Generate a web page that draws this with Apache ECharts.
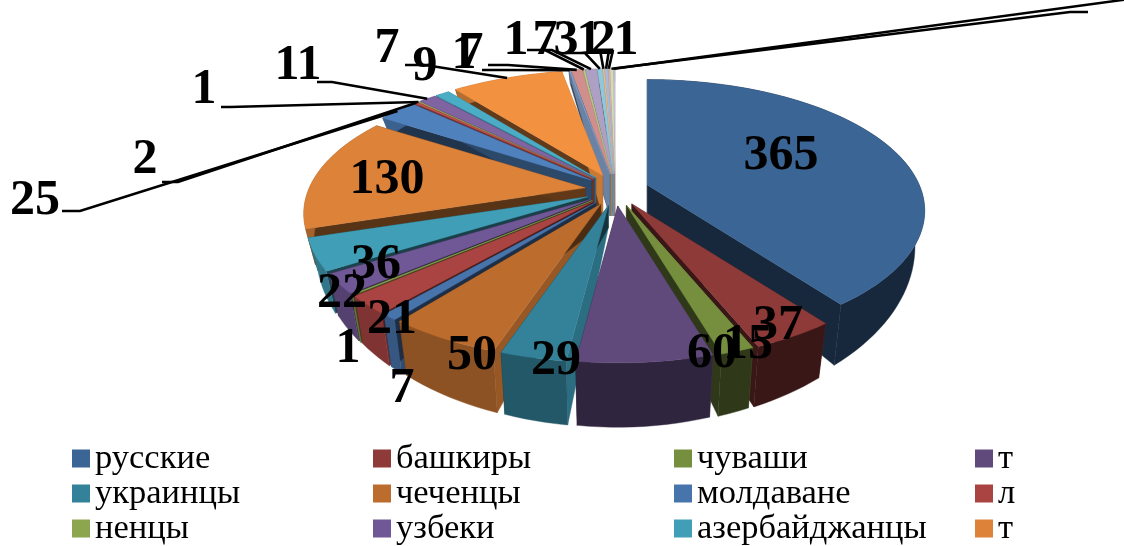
<!DOCTYPE html>
<html><head><meta charset="utf-8">
<style>html,body{margin:0;padding:0;background:#fff}#c{width:1124px;height:546px}</style>
<script src="https://cdn.jsdelivr.net/npm/echarts@6/dist/echarts.min.js"></script>
</head><body><div id="c"></div>
<script>
// ---- data ----
const categories = ['русские','башкиры','чуваши','т','украинцы','чеченцы','молдаване','л','ненцы','узбеки','азербайджанцы','т'];
const sliceValues = [365,37,15,60,29,50,7,21,1,22,36,130,25,2,1,11,9,71,1,7,1,7,3,1,2,1,2,1];
const sliceLabels = ['365','37','15','60','29','50','7','21','1','22','36','130','25','2','1','11','9','7','1','7','1','7','3','1','2','1','',''];
const sliceColors = ['#3A6595','#8E3A38','#758F3F','#5F4A7B','#338299','#BC6D2E','#4874AC','#A94442','#8BA64F','#705795','#419EB7','#DC8239',
  '#4F81BD','#C0504D','#9BBB59','#8064A2','#4BACC6','#F29140','#7F9BC4','#D08F8D','#B5C98A','#ADA0C4','#8FC8D8','#F5B585','#A5BBDA','#DDB0AE','#CFDDB0','#C5BCD8'];

// ---- layout, not data ----
const C = {cx:615, cy:190, exRight:34, exLeft:30, ey:16, rxRight:272, rxLeft:276, ry:126, k:0.197, fx:0.965, fy:1.27};
const FONT = 'bold 50px "Liberation Serif"';
// label centre + optional leader [startX,startY,kneeX,kneeY]
const labelLayout = [
 [781,156],[778,326],[748,345],[712,354],[556,361],[472,356],[402,389],[392,320],[348,349],[342,294],[376,265],[387,180],
 [35,201,[62,211,80,211]],[145,160,[162,182,178,182]],[204,90,[221,107,230,107]],[298,66,[317,82,332,82]],[425,67],[387,49,[405,65,425,65]],
 [464,55,[482,70,500,70]],[471,53,[488,65,508,65]],[516,41,[527,50,545,50]],[545,41,[545,50,552,50]],[566,41,[565,53,585,53]],
 [589,41,[600,50,600,50]],[603,41,[609,50,609,50]],[626,41,[613,50,613,50]],[0,0,[1088,12,1070,12]],[0,0,[1130,-1,1130,-1]]
];

const total = sliceValues.reduce((a,b)=>a+b,0);
const D2R = Math.PI/180;
const toAngle = v => v/total*360;
const starts = []; sliceValues.reduce((a,v,i)=>{starts[i]=a;return a+toAngle(v);},0);

function project(r,thetaDeg){
  const t=thetaDeg*D2R, u=r*Math.sin(t), v=-r*Math.cos(t), s=1/(1-C.k*v);
  return [(u<0?C.rxLeft:C.rxRight)*u*s, C.ry*v*s];
}
function geom(value,start){
  const end=start+toAngle(value), mid=(start+end)/2, sm=Math.sin(mid*D2R);
  const ax=C.cx+(sm<0?C.exLeft:C.exRight)*sm, ay=C.cy-C.ey*Math.cos(mid*D2R);
  const h0=22+20*Math.max(0,Math.cos(mid*D2R));
  const top=(th)=>{const p=project(1,th);return [ax+p[0],ay+p[1]];};
  const bottom=(pt)=>[ax+(pt[0]-ax)*C.fx, ay+h0+(pt[1]-ay)*C.fy];
  const arc=[];const n=Math.max(2,Math.ceil((end-start)/2));
  for(let i=0;i<=n;i++)arc.push(top(start+(end-start)*i/n));
  return {start,end,mid,apex:[ax,ay],arc,bottom,rimMid:top(mid)};
}
function shade(hex,b){
  const n=parseInt(hex.slice(1),16);
  const f=x=>Math.round(x*b);
  return 'rgb('+f(n>>16&255)+','+f(n>>8&255)+','+f(n&255)+')';
}
const clamp=x=>Math.max(0,Math.min(1,x));
const wallB=normalDeg=>0.4+0.45*clamp((Math.sin(normalDeg*D2R)-0.5)/0.5);

function sliceRender(i){
  return function(params,api){
    const g=geom(api.value(0),starts[i]), col=sliceColors[i];
    const a=g.arc, ba=g.apex, bb=g.bottom(ba);
    const poly=(pts,fill)=>({type:'polygon',shape:{points:pts},style:{fill:fill,stroke:fill,lineWidth:0.4}});
    const first=a[0], last=a[a.length-1];
    const rimB=0.4+0.35*clamp((g.mid-165)/35);
    const rim=a.concat(a.map(g.bottom).reverse());
    return {type:'group',children:[
      poly([ba,first,g.bottom(first),bb],shade(col,wallB(g.start-90))),
      poly([ba,last,g.bottom(last),bb],shade(col,wallB(g.end+90))),
      poly(rim,shade(col,rimB)),
      poly([ba].concat(a),col)
    ]};
  };
}

const sliceSeries = sliceValues.map((v,i)=>{
  const mid=starts[i]+toAngle(v)/2;
  return {type:'custom',name:i<categories.length?i+': '+categories[i]:'сегмент '+(i+1),coordinateSystem:'none',
    z:2,silent:true,animation:false,
    itemStyle:{color:sliceColors[i]},
    data:[[v]],renderItem:sliceRender(i),_depth:-Math.cos(mid*D2R)};
}).sort((a,b)=>a._depth-b._depth);
sliceSeries.forEach(s=>{delete s._depth;});

const labelSeries = {type:'custom',name:'labels',coordinateSystem:'none',z:50,silent:true,animation:false,
  data:sliceValues.map((v,i)=>[v,i]),
  renderItem:function(params,api){
    const i=api.value(1), lay=labelLayout[i], g=geom(api.value(0),starts[i]);
    const ch=[];
    if(lay[2]){
      const l=lay[2];
      ch.push({type:'polyline',shape:{points:[[l[0],l[1]],[l[2],l[3]],g.rimMid]},style:{fill:'none',stroke:'#000',lineWidth:2.6}});
    }
    if(sliceLabels[i]) ch.push({type:'text',style:{text:sliceLabels[i],x:lay[0],y:lay[1],align:'center',verticalAlign:'middle',font:FONT,fill:'#000'}});
    return {type:'group',children:ch};
  }
};

// legend names must be unique per series: prefix index and strip it in the formatter
const legendNames = categories.map((c,i)=>i+': '+c);
const chart = echarts.init(document.getElementById('c'),null,{renderer:'canvas'});
chart.setOption({
  animation:false,
  color:sliceColors,
  legend:{
    data:legendNames,left:72,top:441,width:1210,orient:'horizontal',padding:0,itemGap:0,
    itemWidth:18,itemHeight:18,icon:'rect',selectedMode:false,
    formatter:n=>n.replace(/^\d+: /,''),
    textStyle:{fontFamily:'"Liberation Serif"',fontSize:34.5,color:'#000',width:278,height:27,lineHeight:27,padding:[8,0,0,0],overflow:'truncate'}
  },
  series:sliceSeries.concat([labelSeries])
});
</script></body></html>
